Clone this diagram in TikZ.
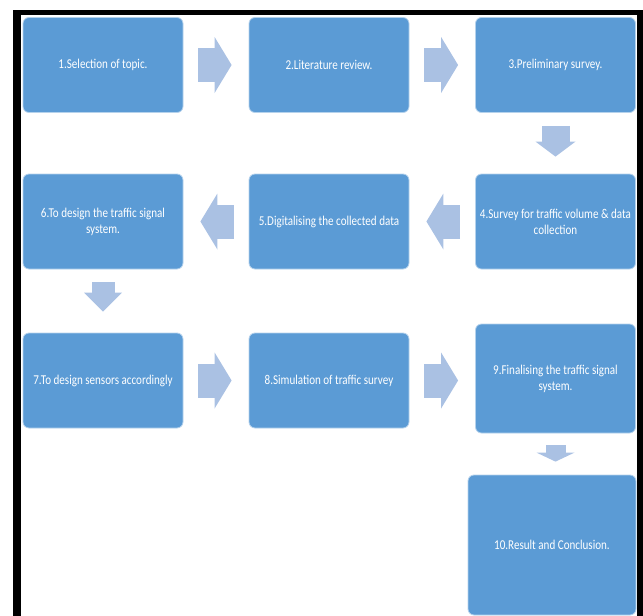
\documentclass[tikz,border=0pt]{standalone}
\usepackage{fontspec}
\setmainfont{Carlito}[FakeStretch=0.82]
\usepackage{tikz}
\usetikzlibrary{positioning,arrows.meta}
\definecolor{boxblue}{RGB}{91,155,213}
\definecolor{arrowblue}{RGB}{170,193,227}

\begin{document}
\begin{tikzpicture}[
    x=1pt, y=1pt,
    stepbox/.style={
        draw=white!55!boxblue,
        line width=0.8pt,
        rounded corners=6pt,
        fill=boxblue,
        text=white,
        align=center,
        inner sep=0pt,
        font=\fontsize{13.5}{16}\selectfont,
        minimum width=160pt,
        minimum height=95pt
    },
    flow/.style={
        arrowblue,
        line width=34pt,
        -{Triangle[length=17pt,width=56pt,line width=0pt]},
        shorten <=15pt,
        shorten >=17pt
    },
    downflow/.style={
        arrowblue,
        shorten <=13pt
    }
]

\useasboundingbox (0,0) rectangle (643,-616);

% ============================================================
% FRAME
% ============================================================

\fill[black] (13,-10) rectangle (643,-15);
\fill[black] (13,-10) rectangle (21,-616);
\fill[black] (637,-10) rectangle (643,-616);

% ============================================================
% STEPS
% ============================================================

\node[stepbox] (s1) at (103,-65)
{1.Selection of topic.};

\node[stepbox] (s2) at (329,-65)
{2.Literature review.};

\node[stepbox] (s3) at (555.5,-65)
{3.Preliminary survey.};

\node[stepbox] (s4) at (555.5,-221.5)
{4.Survey for traffic volume \& data\\collection};

\node[stepbox] (s5) at (329,-221.5)
{5.Digitalising the collected data};

\node[stepbox] (s6) at (103,-221.5)
{6.To design the traffic signal\\system.};

\node[stepbox] (s7) at (103,-380.5)
{7.To design sensors accordingly};

\node[stepbox] (s8) at (329,-380.5)
{8.Simulation of traffic survey};

\node[stepbox, minimum height=109pt] (s9) at (555.5,-378.5)
{9.Finalising the traffic signal\\system.};

\node[stepbox, minimum width=168pt, minimum height=140pt] (s10) at (552,-545)
{10.Result and Conclusion.};

% ============================================================
% ARROWS
% ============================================================

\draw[flow] (s1) -- (s2);
\draw[flow] (s2) -- (s3);

\draw[downflow, line width=28pt,
      -{Triangle[length=15pt,width=40pt,line width=0pt]},
      shorten >=17pt]
(s3) -- (s4);

\draw[flow] (s4) -- (s5);
\draw[flow] (s5) -- (s6);

\draw[downflow, line width=23pt,
      -{Triangle[length=19pt,width=38pt,line width=0pt]},
      shorten >=21pt]
(s6) -- (s7);

\draw[flow] (s7) -- (s8);
\draw[flow] (s8.east) -- (s8.east -| s9.west);

\draw[downflow, line width=20pt, shorten <=12pt,
      -{Triangle[length=9pt,width=38pt,line width=0pt]},
      shorten >=13pt]
(s9.south) -- (s9.south |- s10.north);

\end{tikzpicture}
\end{document}
